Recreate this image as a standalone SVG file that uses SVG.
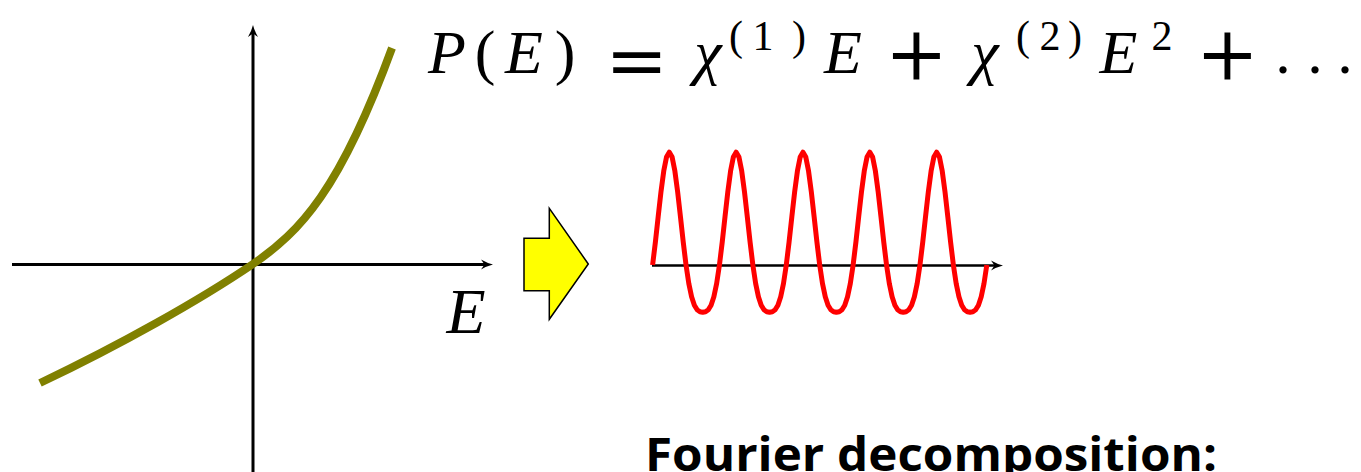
<svg xmlns="http://www.w3.org/2000/svg" width="1361" height="472" viewBox="0 0 1361 472">
<style>
.ax{fill:none;stroke:#000;stroke-width:3;marker-end:url(#arr)}
.i{font-style:italic}
.big{font-size:62px}
.sup{font-size:42px}
.op{font-family:'DejaVu Serif',serif;font-size:75px}
</style>
<defs>
<marker id="arr" markerUnits="userSpaceOnUse" markerWidth="30" markerHeight="30" refX="0" refY="0" viewBox="-15 -15 30 30" orient="auto" overflow="visible">
<path d="M7,0 Q1,-1.5 -5,-5 L-1.5,0 L-5,5 Q1,1.5 7,0 Z" fill="#000"/>
</marker>
</defs>
<rect width="1361" height="472" fill="#fff"/>
<g id="connectors">
<line class="ax" x1="12" y1="264.5" x2="486" y2="264.5"/>
<line class="ax" x1="253" y1="472" x2="253" y2="32"/>
<line class="ax" style="stroke-width:2.5" x1="652" y1="265.5" x2="996" y2="265.5"/>
</g>
<g id="curve">
<path d="M40,383 C120,345 200,300 253,264 C300,232 340,190 392,48" fill="none" stroke="#808000" stroke-width="8"/>
</g>
<g id="label-E" font-family="Liberation Serif, serif">
<text class="i" x="466" y="333" font-size="64" text-anchor="middle">E</text>
</g>
<g id="equation" text-anchor="middle" font-family="Liberation Serif, serif">
<text class="i big" x="447" y="73">P</text>
<text class="big" x="485" y="73">(</text>
<text class="i big" x="524" y="73">E</text>
<text class="big" x="565" y="73">)</text>
<text class="op" x="636.7" y="86">=</text>
<text class="i big" x="708" y="73">χ</text>
<text class="sup" x="736" y="50">(</text>
<text class="sup" x="763" y="50">1</text>
<text class="sup" x="799" y="50">)</text>
<text class="i big" x="843" y="73">E</text>
<text class="op" x="916.5" y="80">+</text>
<text class="i big" x="985" y="73">χ</text>
<text class="sup" x="1023" y="50">(</text>
<text class="sup" x="1050" y="50">2</text>
<text class="sup" x="1075" y="50">)</text>
<text class="i big" x="1118.5" y="73">E</text>
<text class="sup" x="1162" y="50">2</text>
<text class="op" x="1227.5" y="80">+</text>
<text class="big" x="1283 1315 1345" y="73">...</text>
</g>
<g id="yellow-arrow">
<polygon points="524,238.3 549.3,238.3 549.3,208.3 588.3,264 549.3,319.3 549.3,290.7 524,290.7" fill="#ffff00" stroke="#000" stroke-width="1.5"/>
</g>
<g id="wave">
<path fill="none" stroke="#ff0000" stroke-width="5" stroke-linejoin="round" d="M652.6,265
l2.785,-22.9 2.785,-25.3 2.785,-24.8 2.785,-20.9 2.785,-14 2.785,-4.9 2.785,4.9 2.785,14 2.785,20.9 2.785,24.8 2.785,25.3 2.785,22.9 2.785,18.5 2.785,13.3 2.785,8.4 2.785,4.5 2.785,2 2.785,0.5 2.785,-0.5 2.785,-2 2.785,-4.5 2.785,-8.4 2.785,-13.3 2.785,-18.5
l2.785,-22.9 2.785,-25.3 2.785,-24.8 2.785,-20.9 2.785,-14 2.785,-4.9 2.785,4.9 2.785,14 2.785,20.9 2.785,24.8 2.785,25.3 2.785,22.9 2.785,18.5 2.785,13.3 2.785,8.4 2.785,4.5 2.785,2 2.785,0.5 2.785,-0.5 2.785,-2 2.785,-4.5 2.785,-8.4 2.785,-13.3 2.785,-18.5
l2.785,-22.9 2.785,-25.3 2.785,-24.8 2.785,-20.9 2.785,-14 2.785,-4.9 2.785,4.9 2.785,14 2.785,20.9 2.785,24.8 2.785,25.3 2.785,22.9 2.785,18.5 2.785,13.3 2.785,8.4 2.785,4.5 2.785,2 2.785,0.5 2.785,-0.5 2.785,-2 2.785,-4.5 2.785,-8.4 2.785,-13.3 2.785,-18.5
l2.785,-22.9 2.785,-25.3 2.785,-24.8 2.785,-20.9 2.785,-14 2.785,-4.9 2.785,4.9 2.785,14 2.785,20.9 2.785,24.8 2.785,25.3 2.785,22.9 2.785,18.5 2.785,13.3 2.785,8.4 2.785,4.5 2.785,2 2.785,0.5 2.785,-0.5 2.785,-2 2.785,-4.5 2.785,-8.4 2.785,-13.3 2.785,-18.5
l2.785,-22.9 2.785,-25.3 2.785,-24.8 2.785,-20.9 2.785,-14 2.785,-4.9 2.785,4.9 2.785,14 2.785,20.9 2.785,24.8 2.785,25.3 2.785,22.9 2.785,18.5 2.785,13.3 2.785,8.4 2.785,4.5 2.785,2 2.785,0.5 2.785,-0.5 2.785,-2 2.785,-4.5 2.785,-8.4 2.785,-13.3 2.785,-18.5"/>
</g>
<g id="caption">
<text x="645" y="471" font-family="'Open Sans',sans-serif" font-weight="700" font-size="46" textLength="572" lengthAdjust="spacingAndGlyphs">Fourier decomposition:</text>
</g>
</svg>
